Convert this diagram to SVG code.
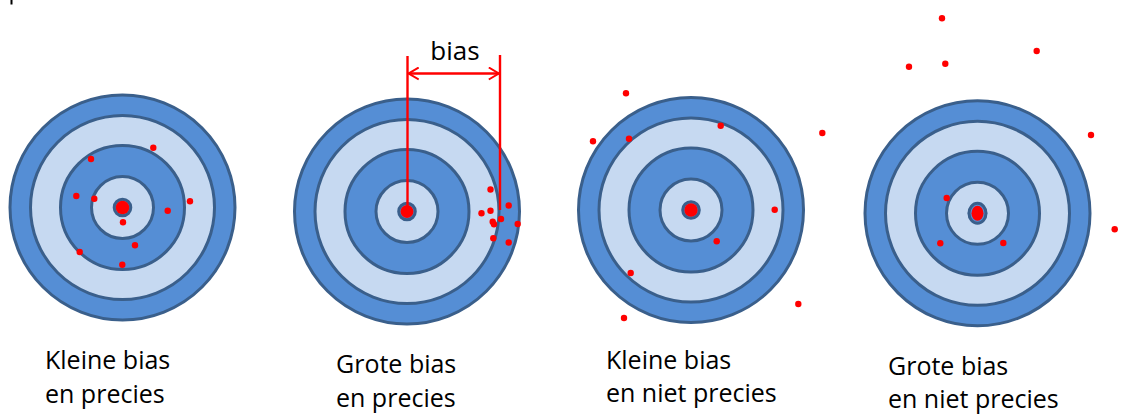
<svg xmlns="http://www.w3.org/2000/svg" width="1133" height="416" viewBox="0 0 1133 416">
  <style>
    .dk { fill: #558ED5; stroke: #3A5F8B; stroke-width: 3; }
    .lt { fill: #C6D9F1; stroke: #3A5F8B; stroke-width: 3; }
    .bull { fill: #FF0000; }
    .dot { fill: #FF0000; }
    .lbl { font-family: "Open Sans", "Liberation Sans", sans-serif; font-size: 25px; fill: #000; }
    .dim { stroke: #FF0000; stroke-width: 2.4; fill: none; }
  </style>
  <defs>
    <g id="target">
      <circle class="dk" r="112.5"/>
      <circle class="lt" r="92"/>
      <circle class="dk" r="62"/>
      <circle class="lt" r="31"/>
      <circle class="dk" r="8.3"/>
    </g>
    <marker id="open" viewBox="0 0 12 14" refX="10.5" refY="7" markerWidth="12" markerHeight="14" markerUnits="userSpaceOnUse" orient="auto-start-reverse">
      <path d="M0.5,1 L10.5,7 L0.5,13" fill="none" stroke="#FF0000" stroke-width="2"/>
    </marker>
  </defs>
  <rect x="10.5" y="0" width="2" height="4.5" fill="#000"/>

  <g id="target1">
    <use href="#target" x="122.5" y="207.5"/>
    <circle class="bull" cx="122.5" cy="207.5" r="6.8"/>
    <g>
      <circle class="dot" cx="153.3" cy="147.7" r="3.2"/>
      <circle class="dot" cx="91" cy="159" r="3.2"/>
      <circle class="dot" cx="76.3" cy="196" r="3.2"/>
      <circle class="dot" cx="94.3" cy="198.7" r="3.2"/>
      <circle class="dot" cx="190" cy="201.3" r="3.2"/>
      <circle class="dot" cx="167.7" cy="210.7" r="3.2"/>
      <circle class="dot" cx="123" cy="222.3" r="3.2"/>
      <circle class="dot" cx="135" cy="245.3" r="3.2"/>
      <circle class="dot" cx="79.7" cy="252" r="3.2"/>
      <circle class="dot" cx="122.3" cy="264.7" r="3.2"/>
    </g>
    <text class="lbl" x="45" y="369">Kleine bias</text>
    <text class="lbl" x="45" y="403">en precies</text>
  </g>

  <g id="target2">
    <use href="#target" x="407" y="211.5"/>
    <circle class="bull" cx="407" cy="211.5" r="6.5"/>
    <g>
      <circle class="dot" cx="490.5" cy="189.5" r="3.2"/>
      <circle class="dot" cx="508.7" cy="205.5" r="3.2"/>
      <circle class="dot" cx="481.5" cy="213.3" r="3.2"/>
      <circle class="dot" cx="490.5" cy="210.8" r="3.2"/>
      <circle class="dot" cx="492.7" cy="221.7" r="3.2"/>
      <circle class="dot" cx="494" cy="224.3" r="3.2"/>
      <circle class="dot" cx="501" cy="219" r="3.2"/>
      <circle class="dot" cx="517.7" cy="224" r="3.2"/>
      <circle class="dot" cx="493.3" cy="238.3" r="3.2"/>
      <circle class="dot" cx="508.7" cy="242.5" r="3.2"/>
    </g>
    <text class="lbl" x="336" y="373">Grote bias</text>
    <text class="lbl" x="336" y="407">en precies</text>
  </g>

  <g id="target3">
    <use href="#target" x="691" y="210"/>
    <circle class="bull" cx="691" cy="210" r="6.7"/>
    <g>
      <circle class="dot" cx="626" cy="93.3" r="3.2"/>
      <circle class="dot" cx="822.3" cy="133" r="3.2"/>
      <circle class="dot" cx="593" cy="141.3" r="3.2"/>
      <circle class="dot" cx="629" cy="138.7" r="3.2"/>
      <circle class="dot" cx="720.7" cy="125.7" r="3.2"/>
      <circle class="dot" cx="774.7" cy="209.7" r="3.2"/>
      <circle class="dot" cx="716.7" cy="241.3" r="3.2"/>
      <circle class="dot" cx="630.7" cy="273" r="3.2"/>
      <circle class="dot" cx="798.3" cy="304" r="3.2"/>
      <circle class="dot" cx="624" cy="318" r="3.2"/>
    </g>
    <text class="lbl" x="606" y="369">Kleine bias</text>
    <text class="lbl" x="606" y="402">en niet precies</text>
  </g>

  <g id="target4">
    <use href="#target" x="977.5" y="213.3"/>
    <ellipse cx="977.5" cy="213.3" rx="8.5" ry="10" fill="#558ED5" stroke="#3A5F8B" stroke-width="3"/>
    <ellipse class="bull" cx="977.5" cy="213.3" rx="6" ry="7.5"/>
    <g>
      <circle class="dot" cx="942" cy="18.3" r="3.2"/>
      <circle class="dot" cx="1036.7" cy="51" r="3.2"/>
      <circle class="dot" cx="909" cy="66.7" r="3.2"/>
      <circle class="dot" cx="945.3" cy="63.7" r="3.2"/>
      <circle class="dot" cx="1091" cy="135" r="3.2"/>
      <circle class="dot" cx="1114.7" cy="229.3" r="3.2"/>
      <circle class="dot" cx="946.7" cy="198" r="3.2"/>
      <circle class="dot" cx="940.3" cy="243.3" r="3.2"/>
      <circle class="dot" cx="1003.3" cy="243" r="3.2"/>
    </g>
    <text class="lbl" x="888" y="375">Grote bias</text>
    <text class="lbl" x="888" y="408">en niet precies</text>
  </g>

  <g id="connectors">
    <line class="dim" x1="407.5" y1="56" x2="407.5" y2="211.5"/>
    <line class="dim" x1="500" y1="55" x2="500" y2="210"/>
    <line class="dim" x1="408.7" y1="73.5" x2="498.8" y2="73.5" marker-start="url(#open)" marker-end="url(#open)"/>
    <text class="lbl" x="455" y="60" text-anchor="middle" style="font-size:26px">bias</text>
  </g>
</svg>
